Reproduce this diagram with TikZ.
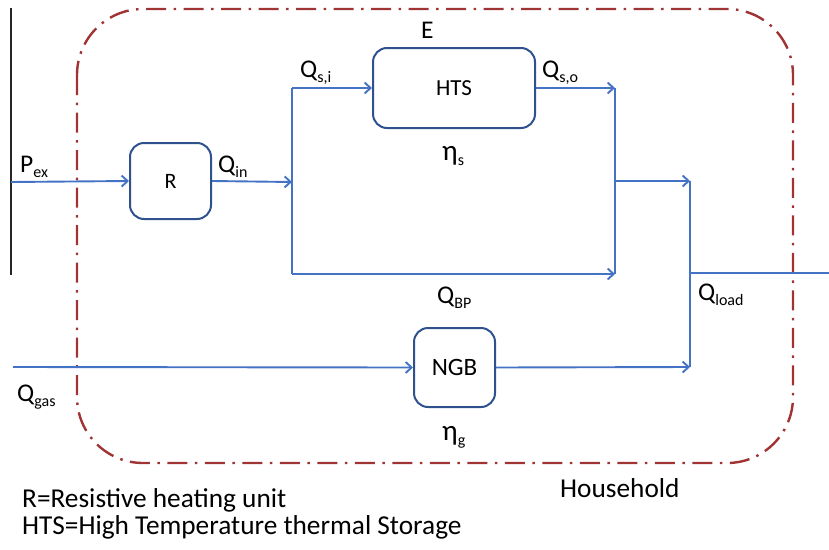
\documentclass[tikz,border=0pt]{standalone}
\usepackage{fontspec}
\setmainfont{Carlito}
\usetikzlibrary{arrows.meta}
\definecolor{flowblue}{RGB}{68,114,196}
\definecolor{boxblue}{RGB}{47,82,143}
\definecolor{hhred}{RGB}{160,52,52}
\newcommand{\sbs}[1]{\raisebox{-5pt}{\fontsize{16}{16}\selectfont #1}}
\newcommand{\bigeta}{{\fontsize{29}{30}\selectfont η}}
\tikzset{
  lbl/.style={anchor=base west, inner sep=0pt, font=\fontsize{25.5}{30}\selectfont},
  unitbox/.style={draw=boxblue, line width=2pt, rounded corners=14pt, fill=white, inner sep=0pt},
  flow/.style={draw=flowblue, line width=1.9pt, -{Straight Barb[length=6pt,width=11pt,line width=1.9pt]}},
  pipe/.style={draw=flowblue, line width=1.9pt},
  household/.style={draw=hhred, line width=2.4pt, rounded corners=66pt, dash pattern=on 20pt off 7.5pt on 2.5pt off 7.5pt},
  legend/.style={anchor=base west, inner sep=0pt, font=\fontsize{27.3}{32}\selectfont}
}
\begin{document}
\begin{tikzpicture}[x=1pt,y=-1pt]
\useasboundingbox (0,0) rectangle (829,549);
% household boundary
\draw[household] (77,9) rectangle (793,463);
% black grid line
\coordinate (gtop) at (11,8);
\coordinate (gbot) at (11,275);
\draw[line width=1.5pt, black!85] (gtop) -- (gbot);
% units
\node[unitbox, minimum width=81pt, minimum height=76pt, font=\fontsize{22}{26}\selectfont] (R) at (170.5,181) {R};
\node[unitbox, minimum width=162pt, minimum height=80pt, font=\fontsize{23}{27}\selectfont] (HTS) at (454,88) {HTS};
\node[unitbox, minimum width=81pt, minimum height=79pt, font=\fontsize{25}{29}\selectfont] (NGB) at (454.5,367.5) {NGB};
% coordinates
\coordinate (pin) at (11,182);
\coordinate (j1) at (292,182);
\coordinate (j1top) at (292,88);
\coordinate (j1bot) at (292,274);
\coordinate (j2top) at (615,88);
\coordinate (j2mid) at (615,181);
\coordinate (j2bot) at (615,274);
\coordinate (j3) at (690,181);
\coordinate (j3out) at (690,273);
\coordinate (j3bot) at (690,367);
\coordinate (outend) at (829,273);
\coordinate (gasin) at (13,367);
% flows
\draw[flow] (pin) -- (R.west);
\draw[flow] (R.east) -- (j1);
\draw[pipe] (j1top) -- (j1bot);
\draw[flow] (j1top) -- (HTS.west);
\draw[flow] (HTS.east) -- (j2top);
\draw[flow] (j1bot) -- (j2bot);
\draw[pipe] (j2top) -- (j2bot);
\draw[flow] (j2mid) -- (j3);
\draw[pipe] (j3) -- (j3bot);
\draw[pipe] (j3out) -- (outend);
\draw[flow] (gasin) -- (NGB.west);
\draw[flow] (NGB.east) -- (j3bot);
% labels
\node[lbl] (lpex) at (20,172) {P\sbs{ex}};
\node[lbl] (lqin) at (218,172) {Q\sbs{in}};
\node[lbl] (lqsi) at (300,77) {Q\sbs{s,i}};
\node[lbl] (lE) at (421,38) {E};
\node[lbl] (lqso) at (542,77) {Q\sbs{s,o}};
\node[lbl] (letas) at (442,160) {\bigeta\sbs{s}};
\node[lbl] (lqbp) at (437,303) {Q\sbs{BP}};
\node[lbl] (lqload) at (698,300) {Q\sbs{load}};
\node[lbl] (lqgas) at (17,401) {Q\sbs{gas}};
\node[lbl] (letag) at (442,440) {\bigeta\sbs{g}};
\node[legend] (lhh) at (560,497) {Household};
\node[legend] (leg1) at (22,507) {R=Resistive heating unit};
\node[legend] (leg2) at (22,534) {HTS=High Temperature thermal Storage};
\end{tikzpicture}
\end{document}
